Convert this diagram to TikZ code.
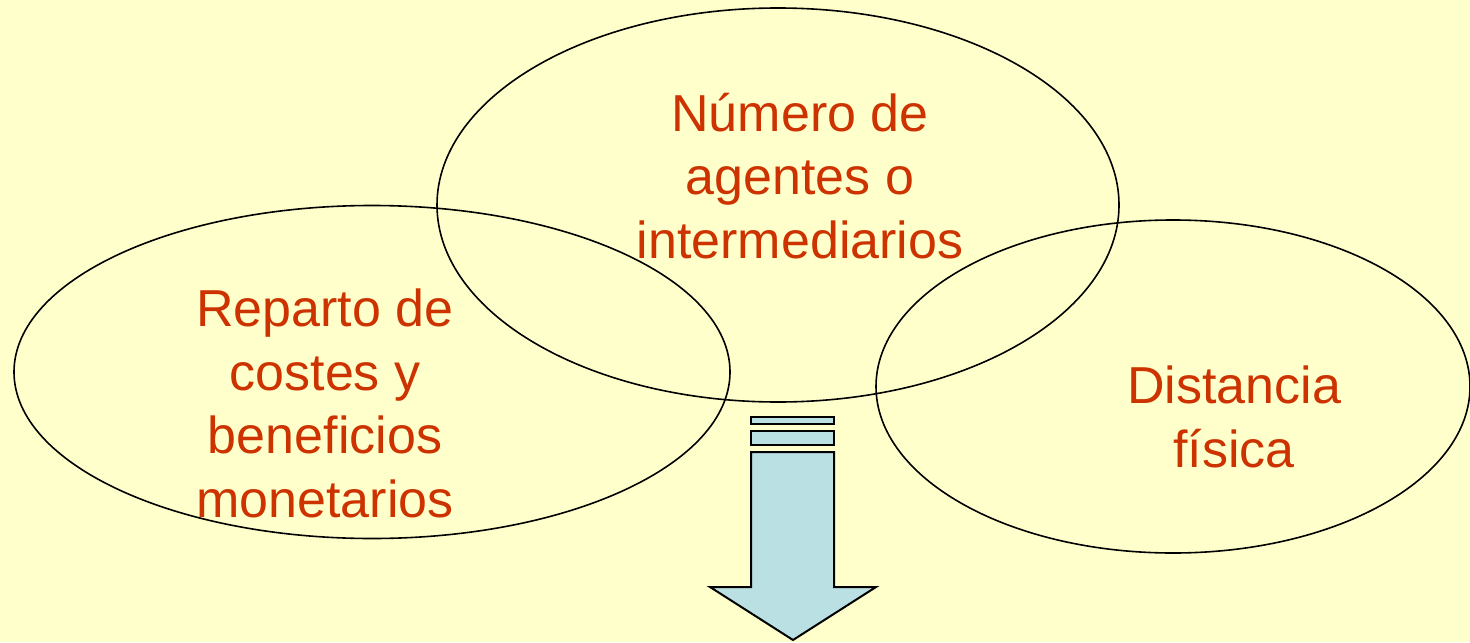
\documentclass[tikz,border=0pt]{standalone}
\usepackage{fontspec}
\setmainfont{Liberation Sans}
\usetikzlibrary{shapes.geometric}
\definecolor{bgyellow}{HTML}{FFFFCC}
\definecolor{txtred}{HTML}{CC3300}
\definecolor{arrowblue}{HTML}{BBE0E3}
\begin{document}
\begin{tikzpicture}[x=0.5pt,y=-0.5pt]
  \tikzstyle{blob}=[ellipse,draw,line width=0.8pt,inner sep=0pt,outer sep=0pt]
  \tikzstyle{label}=[text=txtred,align=center,anchor=base,inner sep=0pt,
    font=\fontsize{26}{31.7}\selectfont]
  \tikzstyle{bar}=[draw,line width=1pt,fill=arrowblue]

  \fill[bgyellow] (0,0) rectangle (1470,642);
  \useasboundingbox (0,0) rectangle (1470,642);

  \node[blob,minimum width=358pt,minimum height=166.5pt] (costes) at (372,372) {};
  \node[blob,minimum width=341pt,minimum height=197pt] (agentes) at (778,205) {};
  \node[blob,minimum width=297pt,minimum height=166.5pt] (distancia) at (1173,386.5) {};

  \node[label] (t_costes) at (325,517) {Reparto de\\costes y\\beneficios\\monetarios};
  \node[label] (t_agentes) at (800,258) {Número de\\agentes o\\intermediarios};
  \node[label] (t_distancia) at (1234,467) {Distancia\\física};

  \draw[bar] (751,417) rectangle (834,424);
  \draw[bar] (751,431) rectangle (834,445);
  \draw[bar,line join=miter] (751,452) -- (834,452) -- (834,587) -- (876,587)
    -- (793,640) -- (710,587) -- (751,587) -- cycle;
\end{tikzpicture}
\end{document}
